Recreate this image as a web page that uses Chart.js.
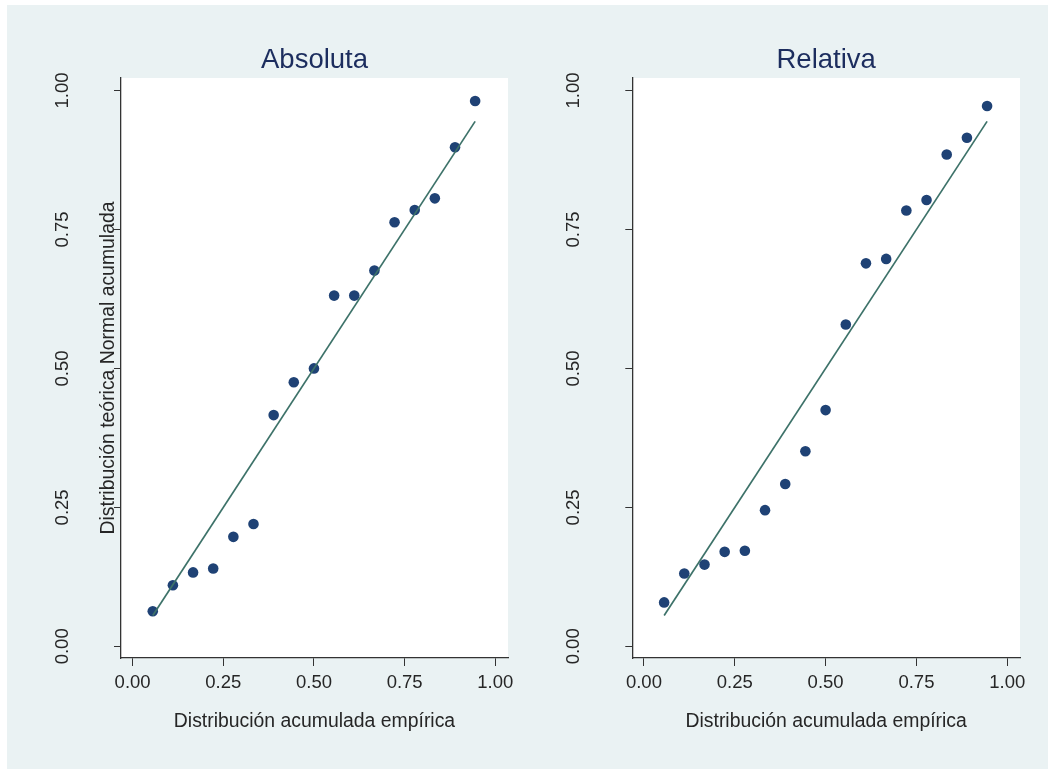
<!DOCTYPE html>
<html>
<head>
<meta charset="utf-8">
<script src="https://cdn.jsdelivr.net/npm/chart.js@4/dist/chart.umd.min.js"></script>
<style>
  html, body { margin: 0; padding: 0; background: #ffffff; }
  #page { position: absolute; left: 0; top: 0; width: 1048px; height: 769px; overflow: hidden; background: #ffffff; }
  #bg { position: absolute; left: 7px; top: 5px; right: 0; bottom: 0; background: #eaf2f3; }
  .cv { position: absolute; top: 0; width: 524px; height: 769px; }
</style>
</head>
<body>
<div id="page">
  <div id="bg"></div>
  <div class="cv" style="left:0"><canvas id="c1" width="524" height="769"></canvas></div>
  <div class="cv" style="left:524px"><canvas id="c2" width="524" height="769"></canvas></div>
</div>
<script>
// ---- Data ----
const empiricalCDF = [0.0556, 0.1111, 0.1667, 0.2222, 0.2778, 0.3333, 0.3889, 0.4444, 0.5000,
                      0.5556, 0.6111, 0.6667, 0.7222, 0.7778, 0.8333, 0.8889, 0.9444];
const absolutaNormal = [0.063, 0.110, 0.133, 0.140, 0.197, 0.220, 0.416, 0.475, 0.500,
                        0.631, 0.631, 0.676, 0.763, 0.785, 0.806, 0.898, 0.981];
const relativaNormal = [0.079, 0.131, 0.147, 0.170, 0.172, 0.245, 0.292, 0.351, 0.425,
                        0.579, 0.689, 0.697, 0.784, 0.803, 0.885, 0.915, 0.972];
const xTicks = [0, 0.25, 0.5, 0.75, 1];
const yTicks = [0, 0.25, 0.5, 0.75, 1];
const panelTitles = ["Absoluta", "Relativa"];
const xTitle = "Distribución acumulada empírica";
const yTitle = "Distribución teórica Normal acumulada";

const FONT = "'Liberation Sans', Arial, Helvetica, sans-serif";
const TEXT = "#262626";
const AXIS = "#333333";

const plotBg = {
  id: 'plotBg',
  beforeDraw(chart) {
    const {ctx, chartArea: a} = chart;
    ctx.save();
    ctx.fillStyle = '#ffffff';
    ctx.fillRect(a.left, a.top, a.right - a.left, a.bottom - a.top);
    ctx.restore();
  }
};

function makeChart(id, title, yVals, yAxisWidth, padRight, showYTitle) {
  const pts = empiricalCDF.map((x, i) => ({x: x, y: yVals[i]}));
  const first = empiricalCDF[0], last = empiricalCDF[empiricalCDF.length - 1];
  const refLine = [{x: first, y: first}, {x: last, y: last}];
  return new Chart(document.getElementById(id), {
    type: 'scatter',
    data: {
      datasets: [
        {
          type: 'line',
          data: refLine,
          borderColor: '#3d7269',
          borderWidth: 1.7,
          pointRadius: 0,
          fill: false,
          order: 0
        },
        {
          data: pts,
          backgroundColor: '#1f4275',
          borderColor: '#1f4275',
          pointRadius: 5.3,
          pointBorderWidth: 0,
          order: 1
        }
      ]
    },
    options: {
      responsive: false,
      animation: false,
      devicePixelRatio: 1,
      layout: { padding: { left: 0, right: padRight, top: 0, bottom: 0 } },
      plugins: {
        legend: { display: false },
        tooltip: { enabled: false },
        title: {
          display: true,
          text: title,
          fullSize: false,
          color: '#1c2d5e',
          font: { family: FONT, size: 27.5, weight: 'normal', lineHeight: 1.2 },
          padding: { top: 44, bottom: 1 }
        }
      },
      scales: {
        x: {
          type: 'linear',
          min: -0.032,
          max: 1.035,
          afterBuildTicks: s => { s.ticks = xTicks.map(v => ({value: v})); },
          afterFit: s => { s.height = 111; },
          grid: { display: true, drawOnChartArea: false, drawTicks: true, tickLength: 8, color: AXIS, lineWidth: 1 },
          border: { display: true, color: AXIS, width: 1.3 },
          ticks: {
            color: TEXT,
            padding: 6,
            maxRotation: 0, minRotation: 0,
            font: { family: FONT, size: 18.5 },
            callback: v => Number(v).toFixed(2)
          },
          title: {
            display: true,
            text: xTitle,
            color: TEXT,
            font: { family: FONT, size: 19.4 },
            padding: { top: 0, bottom: 36 }
          }
        },
        y: {
          type: 'linear',
          min: -0.021,
          max: 1.0225,
          afterBuildTicks: s => { s.ticks = yTicks.map(v => ({value: v})); },
          afterFit: s => { s.width = yAxisWidth; },
          grid: { display: true, drawOnChartArea: false, drawTicks: true, tickLength: 7, color: AXIS, lineWidth: 1 },
          border: { display: true, color: AXIS, width: 1.3 },
          ticks: {
            color: TEXT,
            padding: 33.5,
            minRotation: 90, maxRotation: 90,
            crossAlign: 'center',
            font: { family: FONT, size: 18.5 },
            callback: v => Number(v).toFixed(2)
          },
          title: {
            display: showYTitle,
            text: yTitle,
            color: TEXT,
            font: { family: FONT, size: 19.4 },
            padding: { top: yAxisWidth - 121 + 97, bottom: 0 }
          }
        }
      }
    },
    plugins: [plotBg]
  });
}

makeChart('c1', panelTitles[0], absolutaNormal, 121, 16, true);
makeChart('c2', panelTitles[1], relativaNormal, 108.3, 28, false);
</script>
</body>
</html>
